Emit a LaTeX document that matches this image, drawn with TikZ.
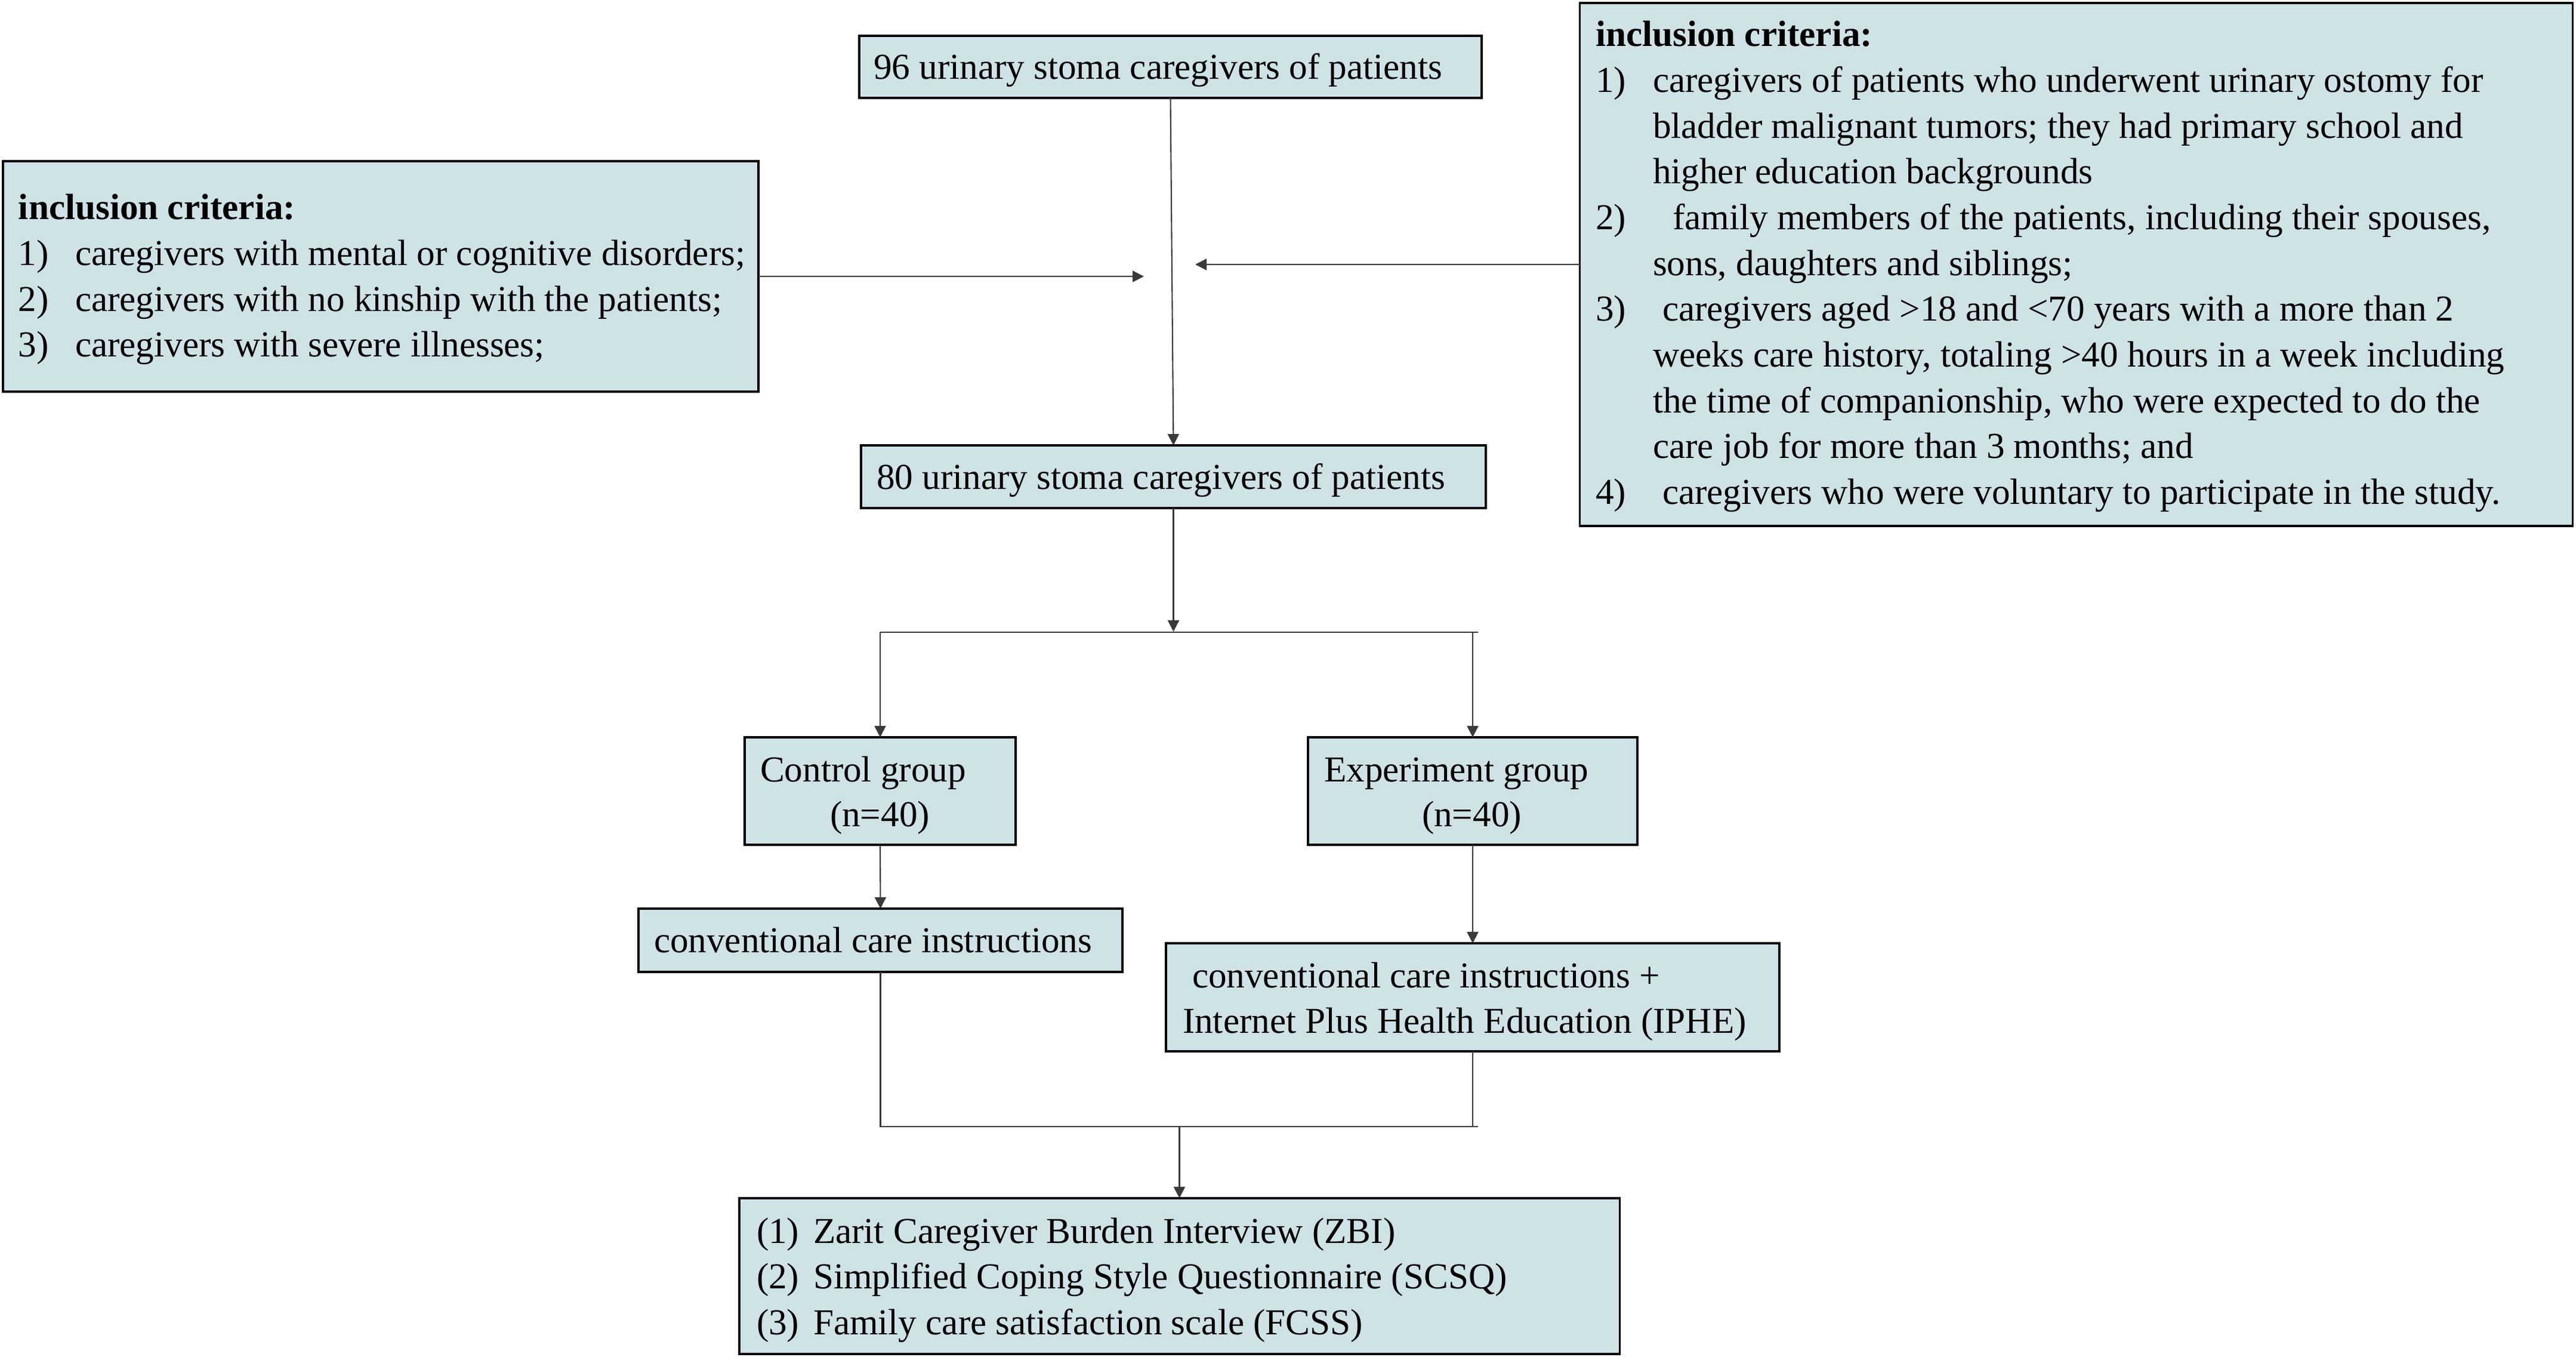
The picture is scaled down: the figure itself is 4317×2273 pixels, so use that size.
\documentclass[tikz,border=0pt]{standalone}
\usepackage{fontspec}
\setmainfont{Liberation Serif}
\usetikzlibrary{arrows.meta}
\definecolor{boxfill}{HTML}{CFE2E6}
\definecolor{linecol}{HTML}{3A3A3A}
\begin{document}
\begin{tikzpicture}[x=0.01cm,y=-0.01cm,
  box/.style={draw=black, line width=1.1pt, fill=boxfill, inner sep=0pt, outer sep=0pt, rectangle},
  txt/.style={inner sep=0pt, outer sep=0pt, anchor=base west, font=\fontsize{17.4}{21.8}\selectfont},
  ln/.style={draw=linecol, line width=0.6pt},
  arr/.style={ln, -{Triangle[length=0.19cm,width=0.19cm]}}
]
\path[use as bounding box] (0,0) rectangle (4317,2273);

% boxes
\node[box, minimum width=10.43cm, minimum height=1.04cm] (top) at (1961.5,112) {};
\node[box, minimum width=12.66cm, minimum height=3.86cm] (left) at (638,463) {};
\node[box, minimum width=16.63cm, minimum height=8.76cm] (right) at (3479.5,443) {};
\node[box, minimum width=10.47cm, minimum height=1.05cm] (b80) at (1966.5,798.5) {};
\node[box, minimum width=4.54cm, minimum height=1.80cm] (ctrl) at (1475,1325) {};
\node[box, minimum width=5.52cm, minimum height=1.80cm] (exp) at (2468,1325) {};
\node[box, minimum width=8.11cm, minimum height=1.06cm] (conv) at (1475.5,1575) {};
\node[box, minimum width=10.28cm, minimum height=1.81cm] (convp) at (2468,1670.5) {};
\node[box, minimum width=14.75cm, minimum height=2.61cm] (bottom) at (1976.5,2137.5) {};

% texts
\node[txt] (toptxt) at (1464,133) {96 urinary stoma caregivers of patients};
\node[txt] (b80txt) at (1469,819) {80 urinary stoma caregivers of patients};
\node[txt] (lefttxt) at (31,368) {\begin{tabular}[t]{@{}p{0.95cm}@{}l@{}}
\multicolumn{2}{@{}l@{}}{\textbf{inclusion criteria:}}\\
1) & caregivers with mental or cognitive disorders;\\
2) & caregivers with no kinship with the patients;\\
3) & caregivers with severe illnesses;
\end{tabular}};
\node[txt] (righttxt) at (2674,78) {\begin{tabular}[t]{@{}p{0.96cm}@{}l@{}}
\multicolumn{2}{@{}l@{}}{\textbf{inclusion criteria:}}\\
1) & caregivers of patients who underwent urinary ostomy for\\
 & bladder malignant tumors; they had primary school and\\
 & higher education backgrounds\\
2) & \hspace{0.33cm}family members of the patients, including their spouses,\\
 & sons, daughters and siblings;\\
3) & \hspace{0.16cm}caregivers aged >18 and <70 years with a more than 2\\
 & weeks care history, totaling >40 hours in a week including\\
 & the time of companionship, who were expected to do the\\
 & care job for more than 3 months; and\\
4) & \hspace{0.16cm}caregivers who were voluntary to participate in the study.
\end{tabular}};
\node[txt] (ctrlA) at (1274,1309) {Control group};
\node[txt] (ctrlB) at (1391,1384) {(n=40)};
\node[txt] (expA) at (2219,1309) {Experiment group};
\node[txt] (expB) at (2383,1384) {(n=40)};
\node[txt] (convtxt) at (1096,1595) {conventional care instructions};
\node[txt] (convpA) at (1998,1654) {conventional care instructions +};
\node[txt] (convpB) at (1982,1730) {Internet Plus Health Education (IPHE)};
\node[txt] (bottomtxt) at (1268,2082) {\begin{tabular}[t]{@{}p{0.95cm}@{}l@{}}
(1) & Zarit Caregiver Burden Interview (ZBI)\\
(2) & Simplified Coping Style Questionnaire (SCSQ)\\
(3) & Family care satisfaction scale (FCSS)
\end{tabular}};

% connectors
\coordinate (mL) at (1917,463);
\coordinate (mR) at (2003,443);
\coordinate (split) at (1966.5,1058);
\coordinate (sL) at (1475,1059);
\coordinate (sR) at (2468,1059);
\coordinate (sE) at (2477,1059);
\coordinate (jL) at (1475.5,1887);
\coordinate (jR) at (2468,1887);
\coordinate (jE) at (2477,1887);
\coordinate (jM) at (1976.5,1887);

\draw[arr] (top.south) -- (b80.north);
\draw[arr] (left.east) -- (mL);
\draw[arr] (right.west) -- (mR);
\draw[arr] (b80.south) -- (split);
\draw[ln] (sL) -- (sE);
\draw[arr] (sL) -- (ctrl.north);
\draw[arr] (sR) -- (exp.north);
\draw[arr] (ctrl.south) -- (conv.north);
\draw[arr] (exp.south) -- (convp.north);
\draw[ln] (conv.south) -- (jL) -- (jE);
\draw[ln] (convp.south) -- (jR);
\draw[arr] (jM) -- (bottom.north);
\end{tikzpicture}
\end{document}
